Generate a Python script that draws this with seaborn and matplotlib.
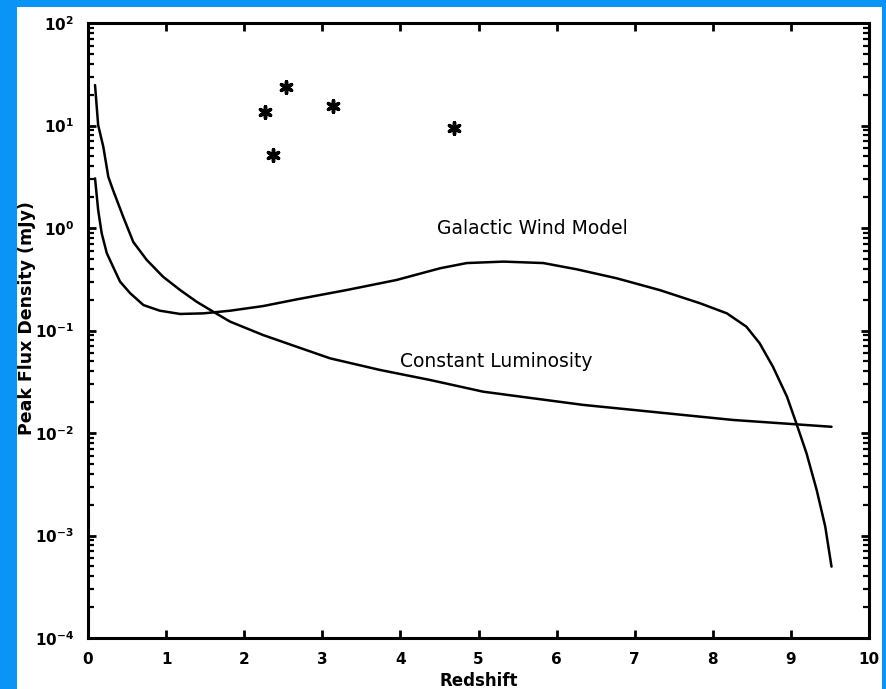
import numpy as np
import pandas as pd
import matplotlib
matplotlib.use("Agg")
import matplotlib.pyplot as plt
import seaborn as sns
from matplotlib.patches import Rectangle
from matplotlib.ticker import LogLocator, FixedLocator, NullFormatter

# ---- data ----
const_z = [0.09, 0.13, 0.196, 0.26, 0.32, 0.45, 0.58, 0.75, 0.96, 1.18, 1.39, 1.60,
           1.82, 2.24, 2.67, 3.10, 3.74, 4.38, 5.06, 5.70, 6.34, 6.98, 7.62, 8.26,
           8.90, 9.52]
const_flux = [24.8, 10.1, 6.2, 3.16, 2.35, 1.29, 0.73, 0.49, 0.335, 0.248, 0.191,
              0.153, 0.122, 0.0904, 0.0695, 0.0535, 0.0412, 0.0329, 0.0253, 0.0218,
              0.0188, 0.0168, 0.0150, 0.0134, 0.0124, 0.0115]

wind_z = [0.09, 0.13, 0.175, 0.24, 0.32, 0.41, 0.54, 0.71, 0.92, 1.18, 1.48, 1.82,
          2.24, 2.67, 3.31, 3.95, 4.51, 4.85, 5.32, 5.83, 6.26, 6.77, 7.32, 7.84,
          8.18, 8.43, 8.60, 8.77, 8.95, 9.07, 9.20, 9.33, 9.44, 9.52]
wind_flux = [3.05, 1.50, 0.89, 0.57, 0.42, 0.30, 0.231, 0.177, 0.156, 0.145, 0.147,
             0.156, 0.173, 0.201, 0.248, 0.311, 0.405, 0.455, 0.47, 0.455, 0.395,
             0.323, 0.248, 0.184, 0.147, 0.109, 0.075, 0.0443, 0.0226, 0.0124,
             0.00634, 0.00278, 0.00122, 0.000497]

obs_z = [2.27, 2.37, 2.54, 3.14, 4.68]
obs_flux = [13.6, 5.15, 23.9, 15.6, 9.5]

x_ticks = [0, 1, 2, 3, 4, 5, 6, 7, 8, 9, 10]
y_ticks = [1e-4, 1e-3, 1e-2, 1e-1, 1e0, 1e1, 1e2]
y_tick_labels = [r"$\mathbf{10^{-4}}$", r"$\mathbf{10^{-3}}$", r"$\mathbf{10^{-2}}$",
                 r"$\mathbf{10^{-1}}$", r"$\mathbf{10^{0}}$", r"$\mathbf{10^{1}}$",
                 r"$\mathbf{10^{2}}$"]

const_df = pd.DataFrame({"z": const_z, "flux": const_flux})
wind_df = pd.DataFrame({"z": wind_z, "flux": wind_flux})
obs_df = pd.DataFrame({"z": obs_z, "flux": obs_flux})

sns.set_style("ticks")
plt.rcParams["font.family"] = ["DejaVu Sans"]
plt.rcParams["text.color"] = "black"
plt.rcParams["axes.labelcolor"] = "black"

fig = plt.figure(figsize=(8.87, 6.89), dpi=100, facecolor="#0a94f6")
fig.patches.append(Rectangle((17 / 887, 0), (882 - 17) / 887, (689 - 7) / 689,
                             transform=fig.transFigure, facecolor="white",
                             edgecolor="none", zorder=-10))

ax = fig.add_axes([88 / 887, 1 - 638 / 689, (869 - 88) / 887, (638 - 23) / 689])
ax.set_facecolor("white")

sns.lineplot(data=const_df, x="z", y="flux", ax=ax, color="black", lw=1.8,
             estimator=None, sort=False)
sns.lineplot(data=wind_df, x="z", y="flux", ax=ax, color="black", lw=1.8,
             estimator=None, sort=False)
sns.scatterplot(data=obs_df, x="z", y="flux", ax=ax, marker=(6, 2, 0), s=70,
                color="black", linewidth=2.5, edgecolor="black")

ax.set_yscale("log")
ax.set_xlim(0, 10)
ax.set_ylim(1e-4, 1e2)
ax.xaxis.set_major_locator(FixedLocator(x_ticks))
ax.set_xticklabels([str(t) for t in x_ticks], fontweight="bold")
ax.yaxis.set_major_locator(FixedLocator(y_ticks))
ax.set_yticklabels(y_tick_labels)
ax.yaxis.set_minor_locator(LogLocator(base=10, subs=np.arange(2, 10), numticks=20))
ax.yaxis.set_minor_formatter(NullFormatter())

for s in ax.spines.values():
    s.set_linewidth(2.2)
    s.set_color("black")
ax.tick_params(which="major", direction="in", length=6, width=2,
               top=True, right=True, labelsize=11, pad=10, colors="black",
               labelcolor="black")
ax.tick_params(which="minor", direction="in", length=4, width=1.6,
               top=False, right=True, left=True, colors="black")

ax.set_xlabel("Redshift", fontsize=12, fontweight="bold", color="black")
ax.xaxis.set_label_coords(0.5, -0.055)
ax.set_ylabel("Peak Flux Density (mJy)", fontsize=12.5, fontweight="bold",
              color="black")
ax.yaxis.set_label_coords(-0.066, 0.52)

ax.text(4.47, 1.0, "Galactic Wind Model", fontsize=13.5, va="center", ha="left",
        color="black")
ax.text(4.0, 0.0496, "Constant Luminosity", fontsize=13.5, va="center", ha="left",
        color="black")

fig.savefig("out.png", dpi=100, facecolor=fig.get_facecolor())
